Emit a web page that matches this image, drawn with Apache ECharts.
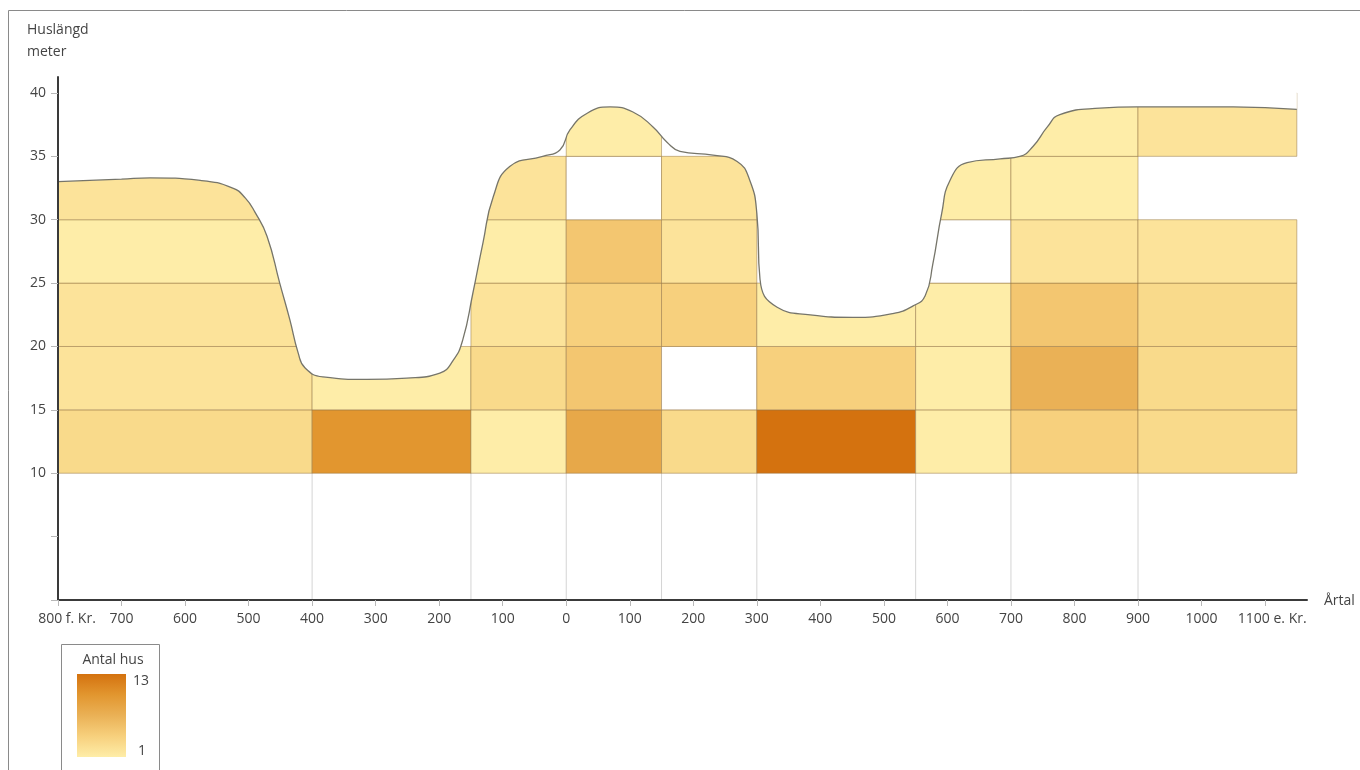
<!DOCTYPE html>
<html>
<head>
<meta charset="utf-8">
<script src="https://cdn.jsdelivr.net/npm/echarts@6/dist/echarts.min.js"></script>
<style>html,body{margin:0;padding:0;background:#fff}#c{width:1360px;height:770px}</style>
</head>
<body>
<div id="c"></div>
<script>
// ---- data ----
const colEdges = [-800, -400, -150, 0, 150, 300, 550, 700, 900, 1150];
const rowEdges = [10, 15, 20, 25, 30, 35, 40];
// number of houses per cell (row by row, one value per column); 0 = empty cell, null = no cell
const row10_15 = [3, 10, 1, 8, 3, 13, 1, 4, 3];
const row15_20 = [2, 1, 3, 5, 0, 4, 1, 7, 3];
const row20_25 = [2, null, 2, 4, 4, 1, 1, 5, 3];
const row25_30 = [1, null, 1, 5, 2, null, 0, 2, 2];
const row30_35 = [2, null, 2, 0, 2, null, 1, 1, null];
const row35_40 = [null, null, null, 1, null, null, null, 1, 2];
const rows = [row10_15, row15_20, row20_25, row25_30, row30_35, row35_40];
// envelope curve (year, house length m)
const curveYears = [-800,-700,-655,-576,-525,-505,-490,-471,-451,-435,-422,-411,-383,-314,-251,-199,-178,-163,-147,-131,-115,-89,-37,-10,6,33,69,105,137,159,179,231,269,289,300,305,332,384,451,514,546,565,577,591,604,631,683,714,735,757,777,840,898,1050,1150];
const curveHeights = [33.0,33.2,33.3,33.1,32.5,31.7,30.6,28.7,25.0,22.1,19.5,18.3,17.6,17.4,17.5,17.9,18.9,20.5,24.2,28.2,31.8,34.2,35.0,35.5,37.1,38.4,38.9,38.5,37.3,36.1,35.4,35.1,34.6,33.1,30.5,25.3,23.1,22.5,22.3,22.6,23.2,24.0,26.5,30.5,33.1,34.5,34.8,35.0,35.8,37.3,38.3,38.8,38.9,38.9,38.7];
const xTickValues = [-800,-700,-600,-500,-400,-300,-200,-100,0,100,200,300,400,500,600,700,800,900,1000,1100];
const yTickValues = [0, 5, 10, 15, 20, 25, 30, 35, 40];
const yLabelValues = [10, 15, 20, 25, 30, 35, 40];
const colorRange = ['#FEEDA8', '#F7D07D', '#EAB156', '#E2962F', '#D4720F'];

// ---- build ----
const cellData = [];
rows.forEach((row, r) => {
  row.forEach((v, c) => {
    if (v !== null) cellData.push([colEdges[c], colEdges[c + 1], rowEdges[r], rowEdges[r + 1], v]);
  });
});
const baseLines = colEdges.slice(1, -1).map(x => [x]);
const curveData = curveYears.map((y, i) => [y, curveHeights[i]]);

const FONT = '"Open Sans", "Noto Sans", sans-serif';
const chart = echarts.init(document.getElementById('c'));
chart.setOption({
  animation: false,
  backgroundColor: '#ffffff',
  textStyle: { fontFamily: FONT },
  title: [
    {
      text: 'Huslängd\nmeter', left: 22, top: 14,
      textStyle: { fontFamily: FONT, fontSize: 14, fontWeight: 'normal', color: '#444', lineHeight: 22 }
    },
    {
      text: 'Årtal', left: 1319, top: 589,
      textStyle: { fontFamily: FONT, fontSize: 14, fontWeight: 'normal', color: '#444' }
    }
  ],
  grid: { left: 58, right: 53, top: 77, bottom: 170 },
  visualMap: {
    type: 'continuous', show: false, min: 1, max: 13, dimension: 4, seriesIndex: 0,
    inRange: { color: colorRange }
  },
  xAxis: {
    type: 'value', min: -800, max: 1166, z: 10,
    axisLine: { show: true, onZero: false, lineStyle: { color: '#3a3a3a', width: 2 } },
    axisTick: { show: true, customValues: xTickValues, length: 6, lineStyle: { color: '#b8b8b8' } },
    axisLabel: {
      customValues: xTickValues, margin: 12, fontSize: 14, color: '#444', fontFamily: FONT,
      hideOverlap: false,
      formatter: function (v) {
        if (v === -800) return '{h|Kr.}{n|800 f. Kr.}';
        if (v === 1100) return '{h|Kr}{n|1100 e. Kr.}';
        return String(Math.abs(v));
      },
      rich: {
        h: { color: 'transparent', fontSize: 14, fontFamily: FONT },
        n: { color: '#444', fontSize: 14, fontFamily: FONT }
      }
    },
    splitLine: { show: false }
  },
  yAxis: {
    type: 'value', min: 0, max: 41.26, z: 10,
    axisLine: { show: true, onZero: false, lineStyle: { color: '#3a3a3a', width: 2 } },
    axisTick: { show: true, customValues: yTickValues, length: 7, lineStyle: { color: '#b8b8b8' } },
    axisLabel: { customValues: yLabelValues, margin: 12, fontSize: 14, color: '#444', fontFamily: FONT },
    splitLine: { show: false }
  },
  graphic: [
    { type: 'rect', z: 100, shape: { x: 8.5, y: 10.5, width: 1400, height: 800 }, style: { fill: 'none', stroke: '#8a8a8a', lineWidth: 1 } },
    { type: 'group', left: 61, top: 644, z: 100, children: [
      { type: 'rect', shape: { x: 0.5, y: 0.5, width: 98, height: 140 }, style: { fill: '#fff', stroke: '#8a8a8a', lineWidth: 1 } },
      { type: 'text', x: 52, y: 16, style: { text: 'Antal hus', fontFamily: FONT, fontSize: 14, fill: '#444', align: 'center', verticalAlign: 'middle' } },
      { type: 'rect', shape: { x: 16, y: 30, width: 49, height: 83 }, style: { fill: new echarts.graphic.LinearGradient(0, 0, 0, 1, colorRange.slice().reverse().map((c, i, a) => ({ offset: i / (a.length - 1), color: c }))) } },
      { type: 'text', x: 72, y: 37, style: { text: '13', fontFamily: FONT, fontSize: 14, fill: '#444', align: 'left', verticalAlign: 'middle' } },
      { type: 'text', x: 77, y: 107, style: { text: '1', fontFamily: FONT, fontSize: 14, fill: '#444', align: 'left', verticalAlign: 'middle' } }
    ]}
  ],
  series: [
    {
      type: 'custom', name: 'cells', z: 2,
      encode: { x: [0, 1], y: [2, 3] },
      data: cellData,
      renderItem: function (params, api) {
        const p0 = api.coord([api.value(0), api.value(3)]);
        const p1 = api.coord([api.value(1), api.value(2)]);
        const cnt = api.value(4);
        return {
          type: 'rect',
          shape: { x: p0[0], y: p0[1], width: p1[0] - p0[0], height: p1[1] - p0[1] },
          style: { fill: cnt > 0 ? api.visual('color') : '#ffffff', stroke: 'rgba(150,118,70,0.5)', lineWidth: 1 }
        };
      }
    },
    {
      type: 'custom', name: 'baselines', z: 1,
      encode: { x: 0 },
      data: baseLines,
      renderItem: function (params, api) {
        const a = api.coord([api.value(0), 0]);
        const b = api.coord([api.value(0), 10]);
        return { type: 'line', shape: { x1: a[0], y1: a[1], x2: b[0], y2: b[1] }, style: { stroke: '#d4d4d4', lineWidth: 1 } };
      }
    },
    {
      type: 'line', name: 'envelope', z: 3,
      data: curveData,
      smooth: 0.5,
      showSymbol: false, symbol: 'none',
      lineStyle: { color: '#76756a', width: 1.3 },
      areaStyle: { color: '#ffffff', opacity: 1, origin: 'end' },
      silent: true
    }
  ]
});
</script>
</body>
</html>
